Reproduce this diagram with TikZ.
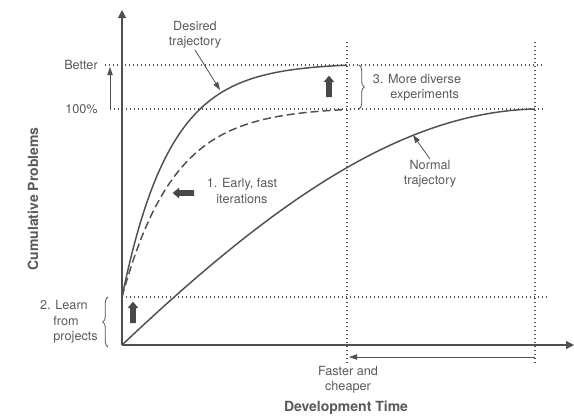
\documentclass[tikz,border=0pt]{standalone}
\usepackage{fontspec}
\setmainfont{TeX Gyre Heros}
\usetikzlibrary{arrows.meta,positioning,shapes.arrows,decorations.pathreplacing}

\definecolor{lineg}{RGB}{80,80,80}
\definecolor{textg}{RGB}{90,90,90}

\tikzset{
  axis/.style={draw=lineg, line width=0.8pt, -{Triangle[length=6pt,width=6pt]}},
  guide/.style={draw=lineg, dotted, line width=1pt},
  curve/.style={draw=lineg, line width=1.1pt},
  pointer/.style={draw=lineg, line width=0.6pt, -{Triangle[length=6pt,width=4pt]}},
  lbl/.style={text=textg, font=\fontsize{9.5}{11.5}\selectfont, align=center, inner sep=0.75pt},
  fatarrow/.style={single arrow, fill=lineg!90!black, draw=none, minimum height=16pt, minimum width=0pt, single arrow head extend=1.9pt, single arrow tip angle=80, inner sep=1.9pt},
  bracket/.style={draw=lineg, line width=0.6pt, decorate, decoration={brace, amplitude=4pt}}
}

\begin{document}
\begin{tikzpicture}[x=0.75pt,y=0.75pt,yscale=-1,xscale=1]
\useasboundingbox (0,0) rectangle (574,418);

%Axes
\coordinate (O) at (122,345);
\coordinate (ytop) at (122,10);
\coordinate (xend) at (574,345);
\draw [axis] (O) -- (ytop);
\draw [axis] (O) -- (xend);

%Dotted guides
\coordinate (betterL) at (105,65);
\coordinate (betterR) at (543,65);
\coordinate (fullL) at (110,109);
\coordinate (fullR) at (545,109);
\coordinate (startL) at (122,297);
\coordinate (startR) at (547,297);
\coordinate (fastT) at (347,42);
\coordinate (fastB) at (347,363);
\coordinate (slowT) at (535,42);
\coordinate (slowB) at (535,363);
\draw [guide] (betterL) -- (betterR);
\draw [guide] (fullL) -- (fullR);
\draw [guide] (startL) -- (startR);
\draw [guide] (fastT) -- (fastB);
\draw [guide] (slowT) -- (slowB);

% Text Node
\node [lbl, anchor=east] (better) at (99,65) {Better};
% Text Node
\node [lbl, anchor=east] (full) at (99,109) {100\%};
%Straight Lines
\coordinate (liftB) at (110,109);
\coordinate (liftT) at (110,67);
\draw [pointer] (liftB) -- (liftT);

%Curves
\draw [curve] plot [domain=122:347, samples=80] (\x, {297-234*(1-exp(-(\x-122)/48))});
\draw [curve, dash pattern=on 6pt off 3pt] plot [domain=122:347, samples=80] (\x, {297-190*(1-exp(-(\x-122)/52))});
\coordinate (normalEnd) at (535,109);
\draw [curve] (O) .. controls (270,205) and (400,112) .. (normalEnd);

% Text Node
\node [lbl] (desired) at (195,35) {Desired\\trajectory};
\coordinate (desiredTip) at (220,90);
\draw [pointer] (desired.south) -- (desiredTip);
% Text Node
\node [lbl] (normal) at (430,174) {Normal\\trajectory};
\coordinate (normalTip) at (413,135);
\draw [pointer] (normal.north) -- (normalTip);

% Text Node
\node [lbl] (early) at (242,191) {1. Early, fast\\iterations};
\node [fatarrow, shape border rotate=180] (earlyArrow) at (185,193) {};

% Text Node
\node [lbl] (diverse) at (417,88) {3. More diverse\\\hspace*{1.2em}experiments};
\coordinate (braceT) at (359,65);
\coordinate (braceB) at (359,109);
\draw [bracket] (braceT) -- (braceB);
\node [fatarrow, shape border rotate=90] (diverseArrow) at (329,88) {};

% Text Node
\node [lbl, anchor=east, align=left] (learn) at (99,322) {2. Learn\\\hspace*{1.05em}from\\\hspace*{1.05em}projects};
\coordinate (braceL) at (108,297);
\coordinate (braceR) at (108,347);
\draw [bracket] (braceR) -- (braceL);
\node [fatarrow, shape border rotate=90] (learnArrow) at (133,314) {};

%Faster arrow
\coordinate (fasterR) at (535,357);
\coordinate (fasterL) at (349,357);
\draw [pointer] (fasterR) -- (fasterL);
% Text Node
\node [lbl] (faster) at (348,380) {Faster and\\cheaper};
% Text Node
\node [lbl, font=\fontsize{10.5}{12}\selectfont\bfseries] (xlabel) at (346,408) {Development Time};
% Text Node
\node [lbl, font=\fontsize{10.5}{12}\selectfont\bfseries, rotate=90] (ylabel) at (33,199) {Cumulative Problems};

\end{tikzpicture}
\end{document}
